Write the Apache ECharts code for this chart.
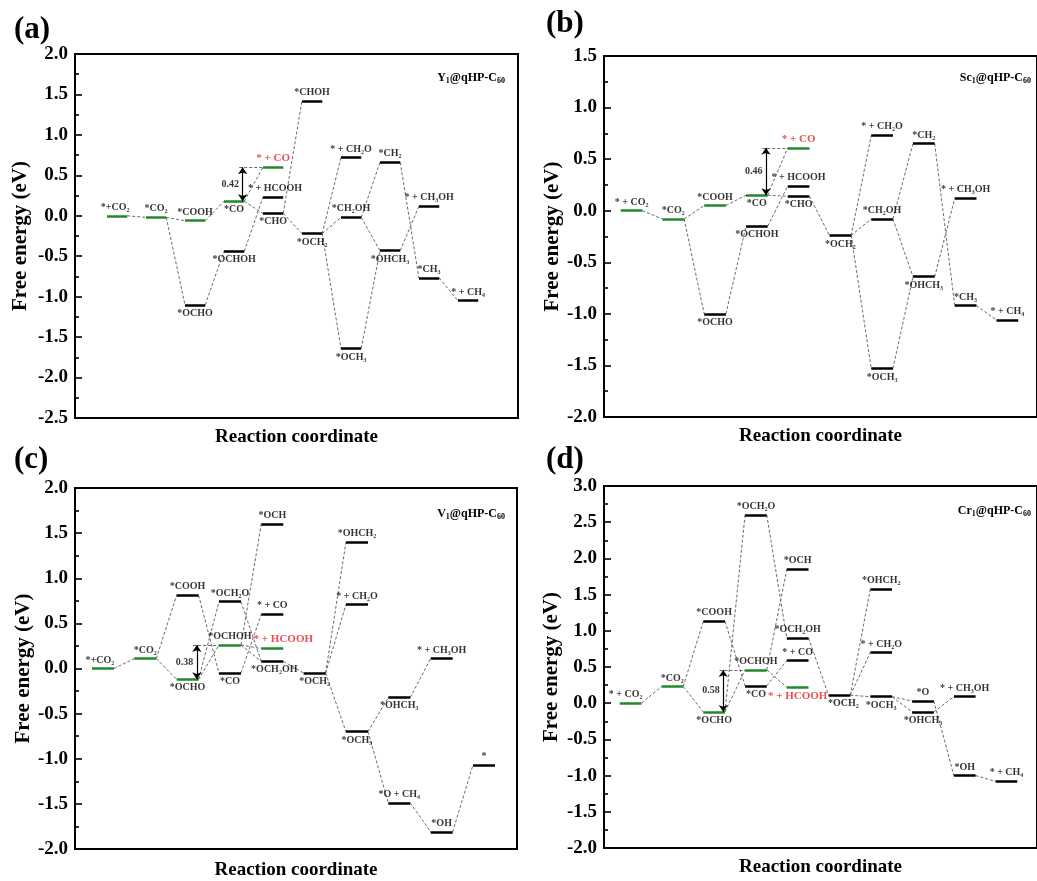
<!DOCTYPE html>
<html><head><meta charset="utf-8">
<script src="https://cdn.jsdelivr.net/npm/echarts@6/dist/echarts.min.js"></script>
<style>html,body{margin:0;padding:0;background:#fff}#c{width:1037px;height:881px}</style>
</head><body><div id="c"></div>
<script>
// ================= DATA =================
// (a) Y1@qHP-C60
const aNames  = ['*+CO₂','*CO₂','*COOH','*OCHO','*CO','*OCHOH','* + CO','* + HCOOH','*CHO','*CHOH','*OCH₂','* + CH₂O','*CH₂OH','*OCH₃','*CH₂','*OHCH₃','* + CH₃OH','*CH₃','* + CH₄'];
const aSlots  = [0,1,2,2,3,3,4,4,4,5,5,6,6,6,7,7,8,8,9];
const aEnergy = [0.00,-0.02,-0.06,-1.10,0.18,-0.44,0.60,0.23,0.03,1.42,-0.22,0.72,-0.02,-1.64,0.66,-0.43,0.12,-0.77,-1.05];
const aPath   = [0,1,2,4,6];
const aLinks  = [[0,1],[1,2],[1,3],[2,4],[3,5],[4,6],[4,8],[5,7],[8,9],[8,10],[10,11],[10,12],[10,13],[12,14],[12,15],[13,15],[14,17],[15,16],[17,18]];
const aBarrier = [4,6,'0.42'];
const aProduct = 6;

// (b) Sc1@qHP-C60
const bNames  = ['* + CO₂','*CO₂','*COOH','*OCHO','*CO','*OCHOH','* + CO','* + HCOOH','*CHO','*OCH₂','* + CH₂O','*CH₂OH','*OCH₃','*CH₂','*OHCH₃','* + CH₃OH','*CH₃','* + CH₄'];
const bSlots  = [0,1,2,2,3,3,4,4,4,5,6,6,6,7,7,8,8,9];
const bEnergy = [0.00,-0.08,0.05,-1.00,0.15,-0.15,0.61,0.24,0.14,-0.24,0.73,-0.08,-1.53,0.65,-0.64,0.12,-0.92,-1.06];
const bPath   = [0,1,2,4,6];
const bLinks  = [[0,1],[1,2],[1,3],[2,4],[3,5],[4,6],[4,8],[5,7],[8,9],[9,10],[9,11],[9,12],[11,13],[11,14],[12,14],[13,16],[14,15],[16,17]];
const bBarrier = [4,6,'0.46'];
const bProduct = 6;

// (c) V1@qHP-C60
const cNames  = ['*+CO₂','*CO₂','*COOH','*OCHO','*OCH₂O','*OCHOH','*CO','*OCH','* + CO','* + HCOOH','*OCH₂OH','*OCH₂','*OHCH₂','* + CH₂O','*OCH₃','*OHCH₃','*O + CH₄','* + CH₃OH','*OH','*'];
const cSlots  = [0,1,2,2,3,3,3,4,4,4,4,5,6,6,6,7,7,8,8,9];
const cEnergy = [0.00,0.11,0.81,-0.12,0.74,0.26,-0.05,1.60,0.60,0.22,0.08,-0.05,1.40,0.71,-0.70,-0.32,-1.49,0.11,-1.81,-1.07];
const cPath   = [0,1,3,5,9];
const cLinks  = [[0,1],[1,2],[1,3],[2,6],[3,4],[3,5],[5,7],[5,9],[5,10],[4,10],[6,8],[10,11],[11,12],[11,13],[11,14],[14,15],[14,16],[15,17],[16,18],[18,19]];
const cBarrier = [3,5,'0.38'];
const cProduct = 9;

// (d) Cr1@qHP-C60
const dNames  = ['* + CO₂','*CO₂','*COOH','*OCHO','*OCH₂O','*OCHOH','*CO','*OCH','*OCH₂OH','* + CO','* + HCOOH','*OCH₂','*OHCH₂','* + CH₂O','*OCH₃','*O','*OHCH₃','* + CH₃OH','*OH','* + CH₄'];
const dSlots  = [0,1,2,2,3,3,3,4,4,4,4,5,6,6,6,7,7,8,8,9];
const dEnergy = [0.00,0.23,1.13,-0.12,2.60,0.46,0.24,1.85,0.90,0.59,0.22,0.11,1.58,0.70,0.09,0.03,-0.12,0.09,-1.00,-1.08];
const dPath   = [0,1,3,5,10];
const dLinks  = [[0,1],[1,2],[1,3],[2,6],[3,4],[3,5],[5,7],[5,10],[4,8],[6,9],[8,11],[11,12],[11,13],[11,14],[14,15],[14,16],[16,17],[15,18],[18,19]];
const dBarrier = [3,5,'0.58'];
const dProduct = 10;

const yTicksA = [-2.5, 2.0], yTicksB = [-2.0, 1.5], yTicksC = [-2.0, 2.0], yTicksD = [-2.0, 3.0];
const xTitle = 'Reaction coordinate';
const yTitle = 'Free energy (eV)';

// ================= STYLE =================
const FONT = '"Liberation Serif","Times New Roman",serif';
const W = 0.52;                 // level width in slot units
const GREEN = '#1f8a2c', RED = '#e3202b', DASH = '#6a6a6a';
const aLab = 'tttbbbttbtbttbtbttt';
const bLab = 'tttbbbttbbttbtbttt';
const cLab = 'tttbttbtttbbttbbtttt';
const dLab = 'tttbttbtttbbttbtbttt';
// label pixel nudges: index -> [dx, dy]
const aNudge = {0:[-2,0], 7:[2,0]};
const bNudge = {};
const cNudge = {0:[-3,0], 9:[11,0], 10:[2,0]};
const dNudge = {0:[-5,0], 11:[4,0]};

const panels = [
  {names:aNames,slots:aSlots,energy:aEnergy,path:aPath,links:aLinks,barrier:aBarrier,product:aProduct,lab:aLab,nudge:aNudge,
   y:yTicksA, x:[-0.82,10.54], grid:{left:75,top:54,width:443,height:364}, nameGap:44, xGap:10,
   letter:'(a)', letterPos:[14,14], sys:['Y','1','@qHP-C','60'], sysPos:[505,70]},
  {names:bNames,slots:bSlots,energy:bEnergy,path:bPath,links:bLinks,barrier:bBarrier,product:bProduct,lab:bLab,nudge:bNudge,
   y:yTicksB, x:[-0.40,9.97], grid:{left:604,top:56,width:440,height:361}, nameGap:34, xGap:10,
   letter:'(b)', letterPos:[546,8], sys:['Sc','1','@qHP-C','60'], sysPos:[1031,70]},
  {names:cNames,slots:cSlots,energy:cEnergy,path:cPath,links:cLinks,barrier:cBarrier,product:cProduct,lab:cLab,nudge:cNudge,
   y:yTicksC, x:[-0.40,10.04], grid:{left:75,top:488,width:442,height:362}, nameGap:37, xGap:12,
   letter:'(c)', letterPos:[14,444], sys:['V','1','@qHP-C','60'], sysPos:[505,506]},
  {names:dNames,slots:dSlots,energy:dEnergy,path:dPath,links:dLinks,barrier:dBarrier,product:dProduct,lab:dLab,nudge:dNudge,
   y:yTicksD, x:[-0.377,9.99], grid:{left:604,top:486,width:440,height:362}, nameGap:42, xGap:10,
   letter:'(d)', letterPos:[546,444], sys:['Cr','1','@qHP-C','60'], sysPos:[1031,503]}
];

const option = {animation:false, backgroundColor:'#fff', grid:[], xAxis:[], yAxis:[], series:[], graphic:[]};

panels.forEach((p, i) => {
  option.grid.push(Object.assign({show:true, borderColor:'#000', borderWidth:2, backgroundColor:'transparent', containLabel:false}, p.grid));
  option.xAxis.push({type:'value', gridIndex:i, min:p.x[0], max:p.x[1],
    axisLine:{show:false, onZero:false}, axisTick:{show:false}, axisLabel:{show:false}, splitLine:{show:false},
    name:xTitle, nameLocation:'middle', nameGap:p.xGap,
    nameTextStyle:{fontFamily:FONT, fontWeight:'bold', fontSize:19, color:'#000', verticalAlign:'top'}});
  option.yAxis.push({type:'value', gridIndex:i, min:p.y[0], max:p.y[1], interval:0.5,
    axisLine:{show:true, onZero:false, lineStyle:{color:'#000', width:2}},
    axisTick:{show:true, inside:true, length:7, lineStyle:{color:'#000', width:1.6}},
    minorTick:{show:true, splitNumber:2, length:4, lineStyle:{color:'#000', width:1.6}},
    splitLine:{show:false},
    axisLabel:{fontFamily:FONT, fontWeight:'bold', fontSize:19, color:'#000', margin:7, formatter:v=>v.toFixed(1)},
    name:yTitle, nameLocation:'middle', nameGap:p.nameGap, nameRotate:90,
    nameTextStyle:{fontFamily:FONT, fontWeight:'bold', fontSize:21, color:'#000'}});

  const S = p.slots, E = p.energy;
  const conn = p.links.map(([f,t]) => ({coords:[[S[f]+W, E[f]],[S[t], E[t]]]}));
  const [bf, bt, bval] = p.barrier;
  const ax = S[bf] + W*0.92;
  conn.push({coords:[[S[bf]+W*0.75, E[bt]],[S[bt], E[bt]]]});
  option.series.push({type:'lines', coordinateSystem:'cartesian2d', xAxisIndex:i, yAxisIndex:i, silent:true, z:1,
    lineStyle:{color:DASH, width:1, type:[3,2], opacity:1}, data:conn});
  option.series.push({type:'lines', coordinateSystem:'cartesian2d', xAxisIndex:i, yAxisIndex:i, silent:true, z:4,
    symbol:['arrow','arrow'], symbolSize:7,
    lineStyle:{color:'#000', width:1.2, opacity:1}, data:[{coords:[[ax, E[bf]],[ax, E[bt]]]}]});
  option.series.push({type:'lines', coordinateSystem:'cartesian2d', xAxisIndex:i, yAxisIndex:i, silent:true, z:3,
    lineStyle:{width:2.6, opacity:1},
    data:S.map((s,k) => ({coords:[[s,E[k]],[s+W,E[k]]], lineStyle:{color: p.path.includes(k)?GREEN:'#000'}}))});
  option.series.push({type:'scatter', xAxisIndex:i, yAxisIndex:i, silent:true, z:5, symbolSize:1,
    itemStyle:{color:'rgba(0,0,0,0)'},
    label:{show:true, fontFamily:FONT, fontWeight:'bold', fontSize:10, color:'#000', distance:3, formatter:d=>d.name},
    data:S.map((s,k) => ({name:p.names[k], value:[s+W/2, E[k]],
      label:{position: p.lab[k]==='t'?'top':'bottom', offset: p.nudge[k]||[0,0],
             color: k===p.product?RED:'#000', fontSize: k===p.product?11:10}}))});
  option.series.push({type:'scatter', xAxisIndex:i, yAxisIndex:i, silent:true, z:5, symbolSize:1,
    itemStyle:{color:'rgba(0,0,0,0)'},
    label:{show:true, position:'left', distance:3, fontFamily:FONT, fontWeight:'bold', fontSize:10, color:'#000', formatter:bval},
    data:[[ax, (E[bf]+E[bt])/2]]});

  option.graphic.push({type:'text', left:p.letterPos[0], top:p.letterPos[1],
    style:{text:p.letter, font:'bold 31px '+FONT, fill:'#000'}});
  option.graphic.push({type:'text', right:1037-p.sysPos[0], top:p.sysPos[1],
    style:{text:'{n|'+p.sys[0]+'}{s|'+p.sys[1]+'}{n|'+p.sys[2]+'}{s|'+p.sys[3]+'}',
      rich:{n:{font:'bold 12px '+FONT, fill:'#000', verticalAlign:'top', lineHeight:13},
            s:{font:'bold 8px '+FONT, fill:'#000', verticalAlign:'bottom', lineHeight:8, padding:[7,0,0,0]}}}});
});

const chart = echarts.init(document.getElementById('c'), null, {renderer:'canvas'});
chart.setOption(option);
</script></body></html>
